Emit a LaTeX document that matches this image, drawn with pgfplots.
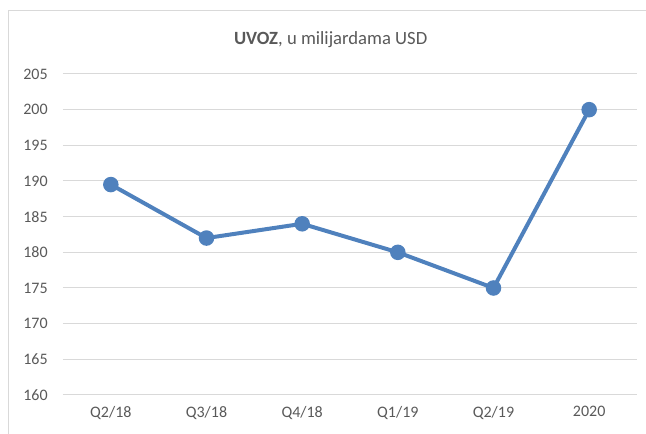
\documentclass[border=0pt]{standalone}
\usepackage{fontspec}
\setmainfont{Carlito}
\usepackage{pgfplots}
\pgfplotsset{compat=1.18}
\definecolor{linec}{RGB}{79,129,189}
\definecolor{gridc}{RGB}{217,217,217}
\definecolor{txtc}{RGB}{89,89,89}
\definecolor{framec}{RGB}{217,217,217}
\begin{document}
\begin{tikzpicture}
\path[use as bounding box] (0,0) rectangle (484.5pt,325.5pt);
\draw[framec, line width=0.75pt] (6pt,0) -- (6pt,317.25pt) -- (484.5pt,317.25pt);
\begin{axis}[
  at={(47.25pt,29.25pt)}, anchor=south west,
  scale only axis, width=430.5pt, height=240.75pt,
  xmin=-0.5, xmax=5.5, ymin=160, ymax=205,
  ytick={160,165,...,205},
  xtick={0,1,2,3,4,5},
  xticklabels={Q2/18,Q3/18,Q4/18,Q1/19,Q2/19,2020},
  axis line style={draw=none},
  major tick length=0pt,
  ymajorgrids, grid style={gridc, line width=0.75pt},
  tick label style={font=\fontsize{12}{14}\selectfont, text=txtc},
  /pgf/number format/assume math mode=true,
  yticklabel style={xshift=-8pt},
  xticklabel style={yshift=-5pt},
  clip=false,
]
\addplot[linec, line width=3pt, mark=*, mark size=4.3pt, mark options={fill=linec, draw=none}] coordinates {
(0,189.5) (1,182) (2,184) (3,180) (4,175) (5,200)
};
\end{axis}
\node[text=txtc, font=\fontsize{14}{16}\selectfont] at (248pt,296pt) {\textbf{UVOZ}, u milijardama USD};
\end{tikzpicture}
\end{document}
